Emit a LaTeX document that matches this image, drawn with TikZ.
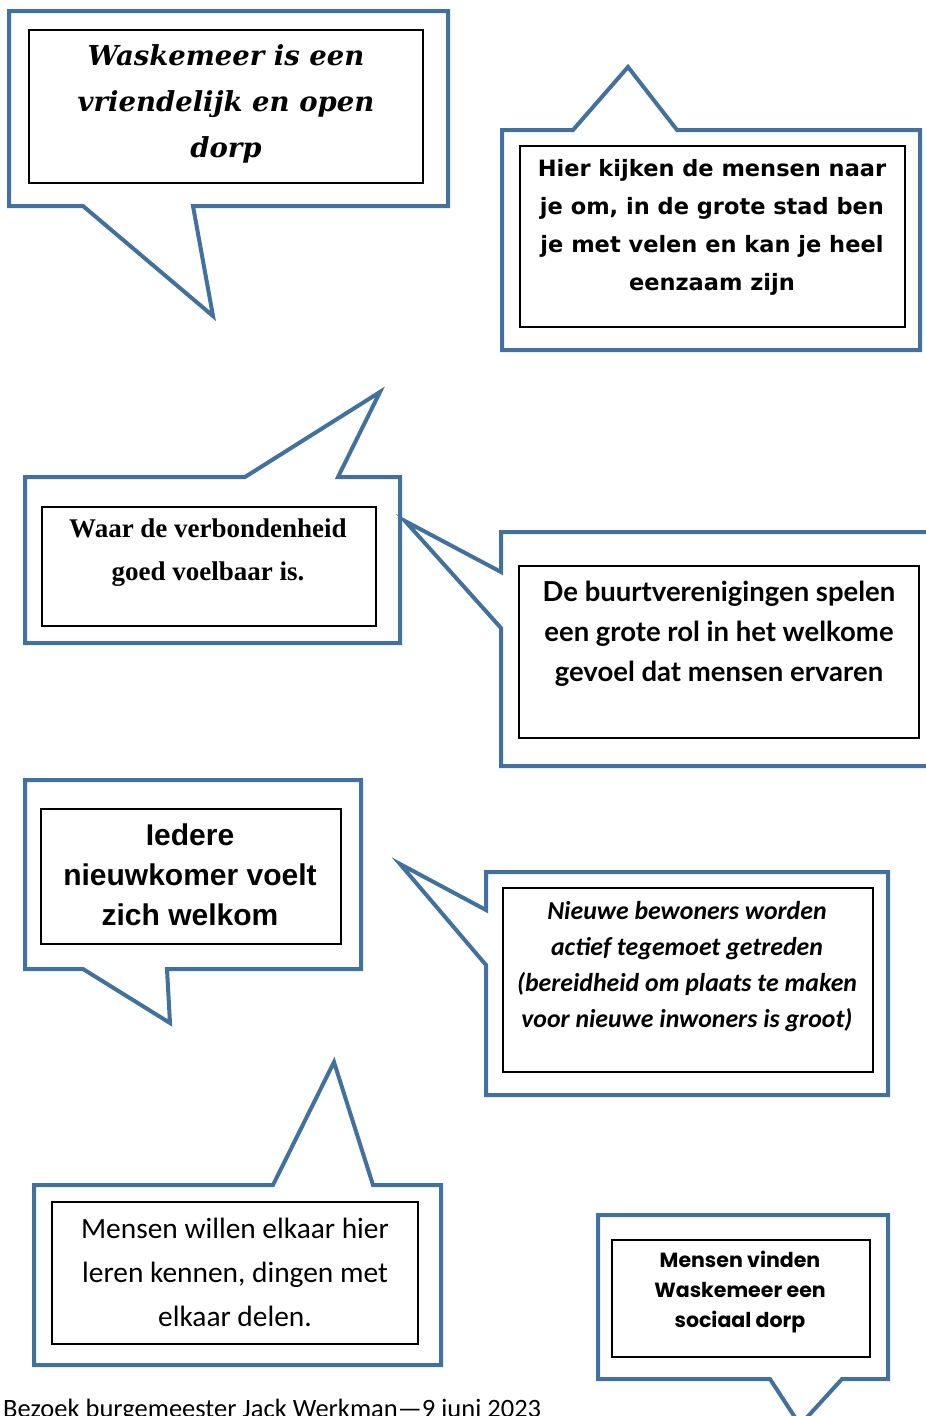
\documentclass[tikz,border=0pt]{standalone}
\usepackage{fontspec}
\usepackage{tikz}
\usetikzlibrary{shapes,arrows,positioning}
\newfontfamily\fslab{DejaVu Serif}
\newfontfamily\fheavy{DejaVu Sans}
\newfontfamily\ftimes{Liberation Serif}
\newfontfamily\flato{Lato}
\newfontfamily\farial{Liberation Sans}
\newfontfamily\fcal{Carlito}
\newfontfamily\fpop{Poppins}
\definecolor{bblue}{RGB}{65,113,156}
\tikzstyle{bubble} = [draw=bblue, line width=4pt, line join=miter]
\tikzstyle{frame} = [draw, line width=1.2pt]
\tikzstyle{tnode} = [align=center, inner sep=0pt]

\begin{document}
\begin{tikzpicture}[x=1pt, y=-1pt]
			\useasboundingbox (0, 0) rectangle (926, 1416);
			\clip (0, 0) rectangle (926, 1416);

			\path [bubble] (9, 11) -- (448, 11) -- (448, 206) -- (193, 206) -- (213, 316) -- (83, 206) -- (9, 206) -- cycle;
			\path [bubble] (502, 130) -- (573, 130) -- (628, 67) -- (677, 130) -- (920, 130) -- (920, 350) -- (502, 350) -- cycle;
			\path [bubble] (25, 477) -- (245, 477) -- (380, 392) -- (338, 477) -- (400, 477) -- (400, 643) -- (25, 643) -- cycle;
			\path [bubble] (501, 532) -- (940, 532) -- (940, 766) -- (501, 766) -- (501, 628) -- (405, 521) -- (501, 572) -- cycle;
			\path [bubble] (25, 780) -- (361, 780) -- (361, 969) -- (167, 969) -- (170, 1023) -- (83, 969) -- (25, 969) -- cycle;
			\path [bubble] (486, 872) -- (888, 872) -- (888, 1095) -- (486, 1095) -- (486, 965) -- (400, 864) -- (486, 910) -- cycle;
			\path [bubble] (34, 1185) -- (273, 1185) -- (334, 1062) -- (373, 1185) -- (441, 1185) -- (441, 1365) -- (34, 1365) -- cycle;
			\path [bubble] (598, 1215) -- (888, 1215) -- (888, 1379) -- (842, 1379) -- (800, 1425) -- (770, 1379) -- (598, 1379) -- cycle;

			\path [frame] (29, 30) rectangle (423, 183);
			\path [frame] (520, 146) rectangle (905, 327);
			\path [frame] (42, 507) rectangle (376, 626);
			\path [frame] (519, 566) rectangle (919, 738);
			\path [frame] (41, 809) rectangle (341, 944);
			\path [frame] (503, 888) rectangle (873, 1072);
			\path [frame] (52, 1202) rectangle (418, 1344);
			\path [frame] (612, 1240) rectangle (870, 1357);

			\node [tnode, font=\fslab\bfseries\itshape\fontsize{27.5}{46}\selectfont] (open) at (226, 104) {Waskemeer is een\\vriendelijk en open\\dorp};
			\node [tnode, font=\fheavy\bfseries\fontsize{22.5}{38}\selectfont] (kijken) at (712, 227) {Hier kijken de mensen naar\\je om, in de grote stad ben\\je met velen en kan je heel\\eenzaam zijn};
			\node [tnode, font=\ftimes\bfseries\fontsize{27}{43}\selectfont] (verbonden) at (208, 553) {Waar de verbondenheid\\goed voelbaar is.};
			\node [tnode, font=\flato\bfseries\fontsize{27.5}{40}\selectfont] (buurt) at (719, 634) {De buurtverenigingen spelen\\een grote rol in het welkome\\gevoel dat mensen ervaren};
			\node [tnode, font=\farial\bfseries\fontsize{30}{40}\selectfont] (welkom) at (190, 875) {Iedere\\nieuwkomer voelt\\zich welkom};
			\node [tnode, font=\fcal\bfseries\itshape\fontsize{25.8}{36}\selectfont] (bewoners) at (687, 967) {Nieuwe bewoners worden\\actief tegemoet getreden\\(bereidheid om plaats te maken\\voor nieuwe inwoners is groot)};
			\node [tnode, font=\fcal\fontsize{29.4}{44}\selectfont] (kennen) at (235, 1272) {Mensen willen elkaar hier\\leren kennen, dingen met\\elkaar delen.};
			\node [tnode, font=\fpop\bfseries\fontsize{20.5}{30}\selectfont] (sociaal) at (740, 1292) {Mensen vinden\\Waskemeer een\\sociaal dorp};
			\node [tnode, anchor=base west, font=\fcal\fontsize{26.5}{30}\selectfont] (bezoek) at (3, 1417) {Bezoek burgemeester Jack Werkman—9 juni 2023};
		\end{tikzpicture}
\end{document}
